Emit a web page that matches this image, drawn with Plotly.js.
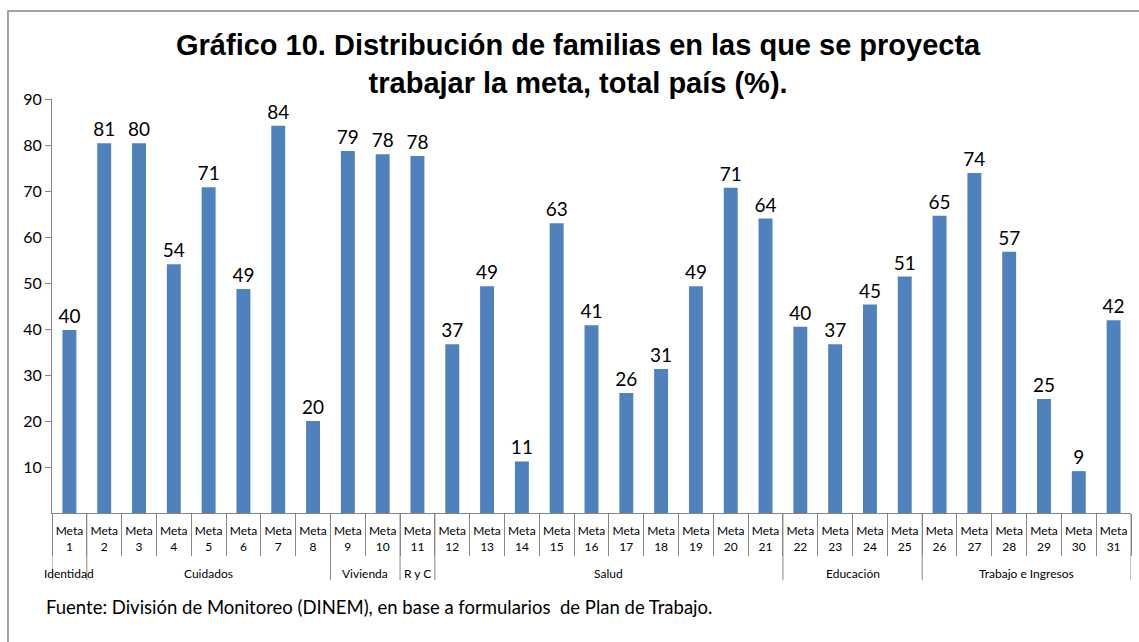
<!DOCTYPE html>
<html>
<head>
<meta charset="utf-8">
<script src="https://cdn.plot.ly/plotly-3.0.1.min.js"></script>
<style>
html,body{margin:0;padding:0;background:#fff;}
#chart{width:1139px;height:642px;}
</style>
</head>
<body>
<div id="chart"></div>
<script>
const metas = ["Meta<br>1","Meta<br>2","Meta<br>3","Meta<br>4","Meta<br>5","Meta<br>6","Meta<br>7","Meta<br>8","Meta<br>9","Meta<br>10","Meta<br>11","Meta<br>12","Meta<br>13","Meta<br>14","Meta<br>15","Meta<br>16","Meta<br>17","Meta<br>18","Meta<br>19","Meta<br>20","Meta<br>21","Meta<br>22","Meta<br>23","Meta<br>24","Meta<br>25","Meta<br>26","Meta<br>27","Meta<br>28","Meta<br>29","Meta<br>30","Meta<br>31"];
const groups = ["Identidad","Cuidados","Cuidados","Cuidados","Cuidados","Cuidados","Cuidados","Cuidados","Vivienda","Vivienda","R y C","Salud","Salud","Salud","Salud","Salud","Salud","Salud","Salud","Salud","Salud","Educación","Educación","Educación","Educación","Trabajo e Ingresos","Trabajo e Ingresos","Trabajo e Ingresos","Trabajo e Ingresos","Trabajo e Ingresos","Trabajo e Ingresos"];
const values = [39.8,80.4,80.4,54.1,70.8,48.7,84.2,20.0,78.7,78.0,77.6,36.7,49.3,11.2,63.0,40.8,26.1,31.3,49.3,70.7,64.0,40.5,36.7,45.3,51.4,64.6,73.9,56.8,24.8,9.1,41.9];
const labels = ["40","81","80","54","71","49","84","20","79","78","78","37","49","11","63","41","26","31","49","71","64","40","37","45","51","65","74","57","25","9","42"];
const yTicks = [10,20,30,40,50,60,70,80,90];

const idx = metas.map((m, i) => i);

// group spans derived from the groups array
const spans = [];
groups.forEach((g, i) => {
  if (!spans.length || spans[spans.length - 1].name !== g) spans.push({name: g, start: i, end: i});
  else spans[spans.length - 1].end = i;
});

const axisGray = '#868686';
const shapes = [];
const annotations = [];
spans.forEach(s => {
  shapes.push({type: 'line', xref: 'x', yref: 'paper', x0: s.start - 0.5, x1: s.start - 0.5, y0: 0, y1: -0.162,
    line: {color: axisGray, width: 1}});
  annotations.push({text: s.name, xref: 'x', yref: 'paper', x: (s.start + s.end) / 2, y: -0.145,
    xanchor: 'center', yanchor: 'middle', showarrow: false,
    font: {family: 'Lato, "Open Sans", sans-serif', size: 12, color: '#000'}});
});
const last = spans[spans.length - 1];
shapes.push({type: 'line', xref: 'x', yref: 'paper', x0: last.end + 0.5, x1: last.end + 0.5, y0: 0, y1: -0.162,
  line: {color: axisGray, width: 1}});

// outer chart border
shapes.push({type: 'rect', xref: 'paper', yref: 'paper',
  x0: -0.0408, x1: 1.05, y0: -0.4, y1: 1.2126,
  line: {color: axisGray, width: 1.5}, fillcolor: 'rgba(0,0,0,0)', layer: 'below'});

annotations.push({
  text: '<b>Gráfico 10. Distribución de familias en las que se proyecta<br>trabajar la meta, total país (%).</b>',
  xref: 'paper', yref: 'paper', x: 0.488, y: 1.174, xanchor: 'center', yanchor: 'top', showarrow: false,
  font: {family: '"Liberation Sans", Arial, sans-serif', size: 29, color: '#000'}
});
annotations.push({
  text: 'Fuente: División de Monitoreo (DINEM), en base a formularios  de Plan de Trabajo.',
  xref: 'paper', yref: 'paper', x: -0.007, y: -0.227,
  xanchor: 'left', yanchor: 'middle', showarrow: false,
  font: {family: 'Lato, "Open Sans", sans-serif', size: 18.5, color: '#000'}
});

const trace = {
  type: 'bar',
  x: idx,
  y: values,
  text: labels,
  textposition: 'outside',
  constraintext: 'none',
  textfont: {family: 'Lato, "Open Sans", sans-serif', size: 19, color: '#000'},
  cliponaxis: false,
  marker: {color: '#4F81BD'},
  hoverinfo: 'y'
};

const layout = {
  width: 1139, height: 642,
  margin: {l: 52, r: 8, t: 99, b: 129},
  paper_bgcolor: '#fff', plot_bgcolor: '#fff',
  bargap: 0.6,
  showlegend: false,
  xaxis: {
    type: 'linear',
    range: [-0.5, metas.length - 0.5],
    tickmode: 'array', tickvals: idx, ticktext: metas,
    showline: true, linecolor: axisGray, linewidth: 1,
    ticks: '', ticklabelstandoff: 7,
    tickfont: {family: 'Lato, "Open Sans", sans-serif', size: 12, color: '#000'},
    showgrid: false, zeroline: false, fixedrange: true
  },
  xaxis2: {
    overlaying: 'x', matches: 'x', anchor: 'y',
    tickmode: 'array', tickvals: idx.concat([metas.length]).map(v => v - 0.5), ticktext: idx.concat([metas.length]).map(() => ''),
    ticks: 'outside', ticklen: 42, tickcolor: axisGray, tickwidth: 1,
    showline: false, showgrid: false, zeroline: false, fixedrange: true
  },
  yaxis: {
    range: [0, 90],
    tickvals: yTicks,
    showline: true, linecolor: axisGray, linewidth: 1,
    ticks: 'outside', ticklen: 6, tickcolor: axisGray,
    tickfont: {family: 'Lato, "Open Sans", sans-serif', size: 16, color: '#000'},
    showgrid: false, zeroline: false, fixedrange: true
  },
  shapes: shapes,
  annotations: annotations
};

const tickTrace = {type: 'scatter', x: [0], y: [0], xaxis: 'x2', yaxis: 'y', mode: 'markers',
  marker: {opacity: 0}, hoverinfo: 'skip', showlegend: false};

Plotly.newPlot('chart', [trace, tickTrace], layout, {displayModeBar: false, staticPlot: true});
</script>
</body>
</html>
